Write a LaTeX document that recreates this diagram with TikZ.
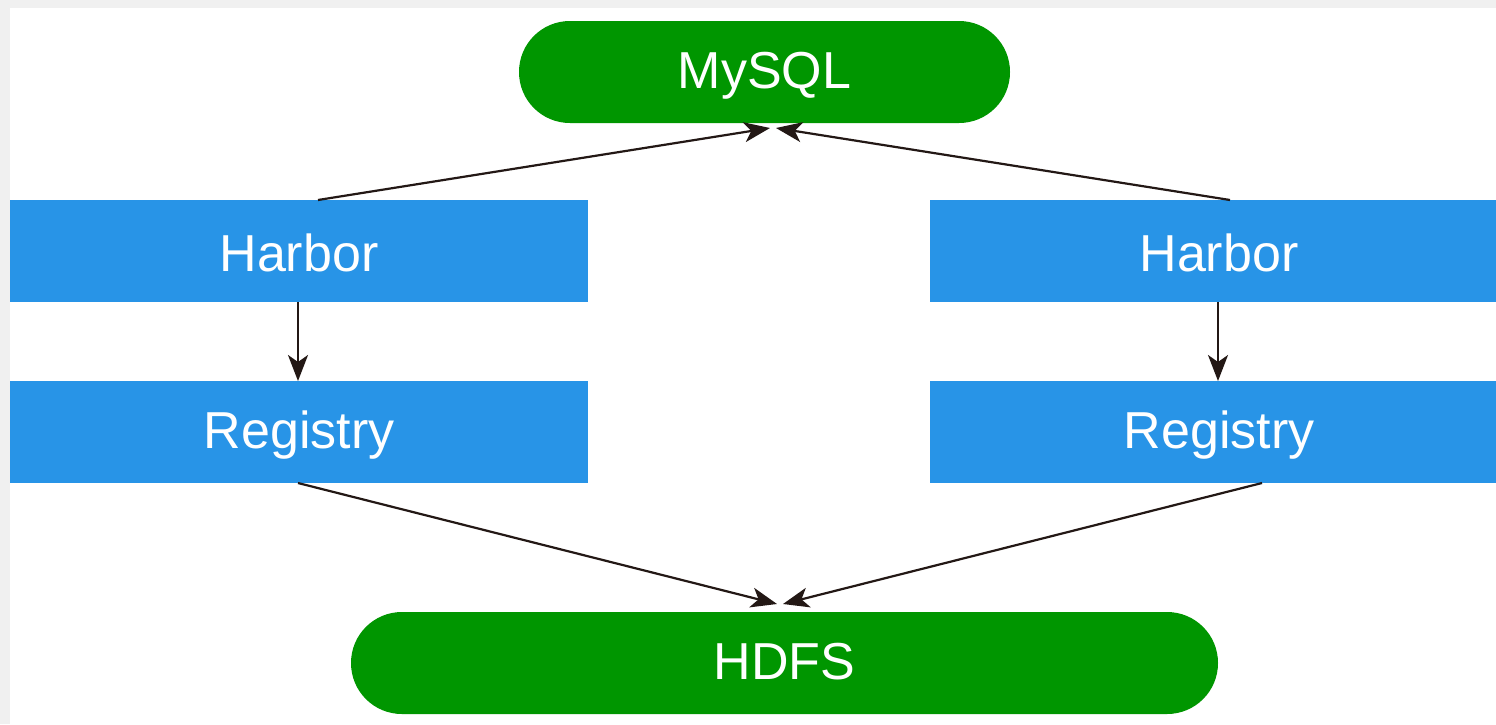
\documentclass[tikz,border=0pt]{standalone}
\usepackage{fontspec}
\setmainfont{Liberation Sans}
\usetikzlibrary{arrows.meta}
\definecolor{bggray}{HTML}{F0F0F0}
\definecolor{nodegreen}{HTML}{009600}
\definecolor{nodeblue}{HTML}{2894E7}
\definecolor{arrowcol}{HTML}{231815}
\tikzset{
  label font/.style={text=white, font=\fontsize{52}{60}\selectfont, text height=45pt, text depth=4pt},
  low text/.style={text height=37pt, text depth=4pt},
  pill/.style={label font, low text, fill=nodegreen, rounded corners=50.9pt, minimum height=102pt, inner sep=0pt, outer sep=0pt},
  boxnode/.style={label font, fill=nodeblue, minimum height=102pt, inner sep=0pt, outer sep=0pt},
  conn/.style={draw=arrowcol, line width=2.2pt, -{Stealth[length=26pt,width=20pt,inset=7pt]}}
}
\begin{document}
\begin{tikzpicture}[x=1pt,y=-1pt]
\fill[bggray] (0,0) rectangle (1496,724);
\fill[white] (10,8) rectangle (1496,724);
\useasboundingbox (0,0) rectangle (1496,724);
% nodes
\node[pill, minimum width=491pt] (mysql) at (764.5,72) {MySQL};
\node[pill, minimum width=867pt] (hdfs) at (784.5,663) {HDFS};
\node[boxnode, minimum width=578pt] (harborL) at (299,251) {Harbor};
\node[boxnode, minimum width=566pt] (harborR) at (1213,251) {\hspace*{12pt}Harbor};
\node[boxnode, low text, minimum width=578pt] (regL) at (299,432) {Registry};
\node[boxnode, low text, minimum width=566pt] (regR) at (1213,432) {\hspace*{12pt}Registry};
% connector end points
\coordinate (hLtop) at (318,200);
\coordinate (hRtop) at (1230,200);
\coordinate (mysqlL) at (770,128);
\coordinate (mysqlR) at (776,128);
\coordinate (hLbot) at (298,302);
\coordinate (rLtop) at (298,381);
\coordinate (hRbot) at (1218,302);
\coordinate (rRtop) at (1218,381);
\coordinate (rLbot) at (298,483);
\coordinate (rRbot) at (1262,483);
\coordinate (hdfsL) at (777,604);
\coordinate (hdfsR) at (783,604);
% connectors
\draw[conn] (hLtop) -- (mysqlL);
\draw[conn] (hRtop) -- (mysqlR);
\draw[conn] (hLbot) -- (rLtop);
\draw[conn] (hRbot) -- (rRtop);
\draw[conn] (rLbot) -- (hdfsL);
\draw[conn] (rRbot) -- (hdfsR);
\end{tikzpicture}
\end{document}
